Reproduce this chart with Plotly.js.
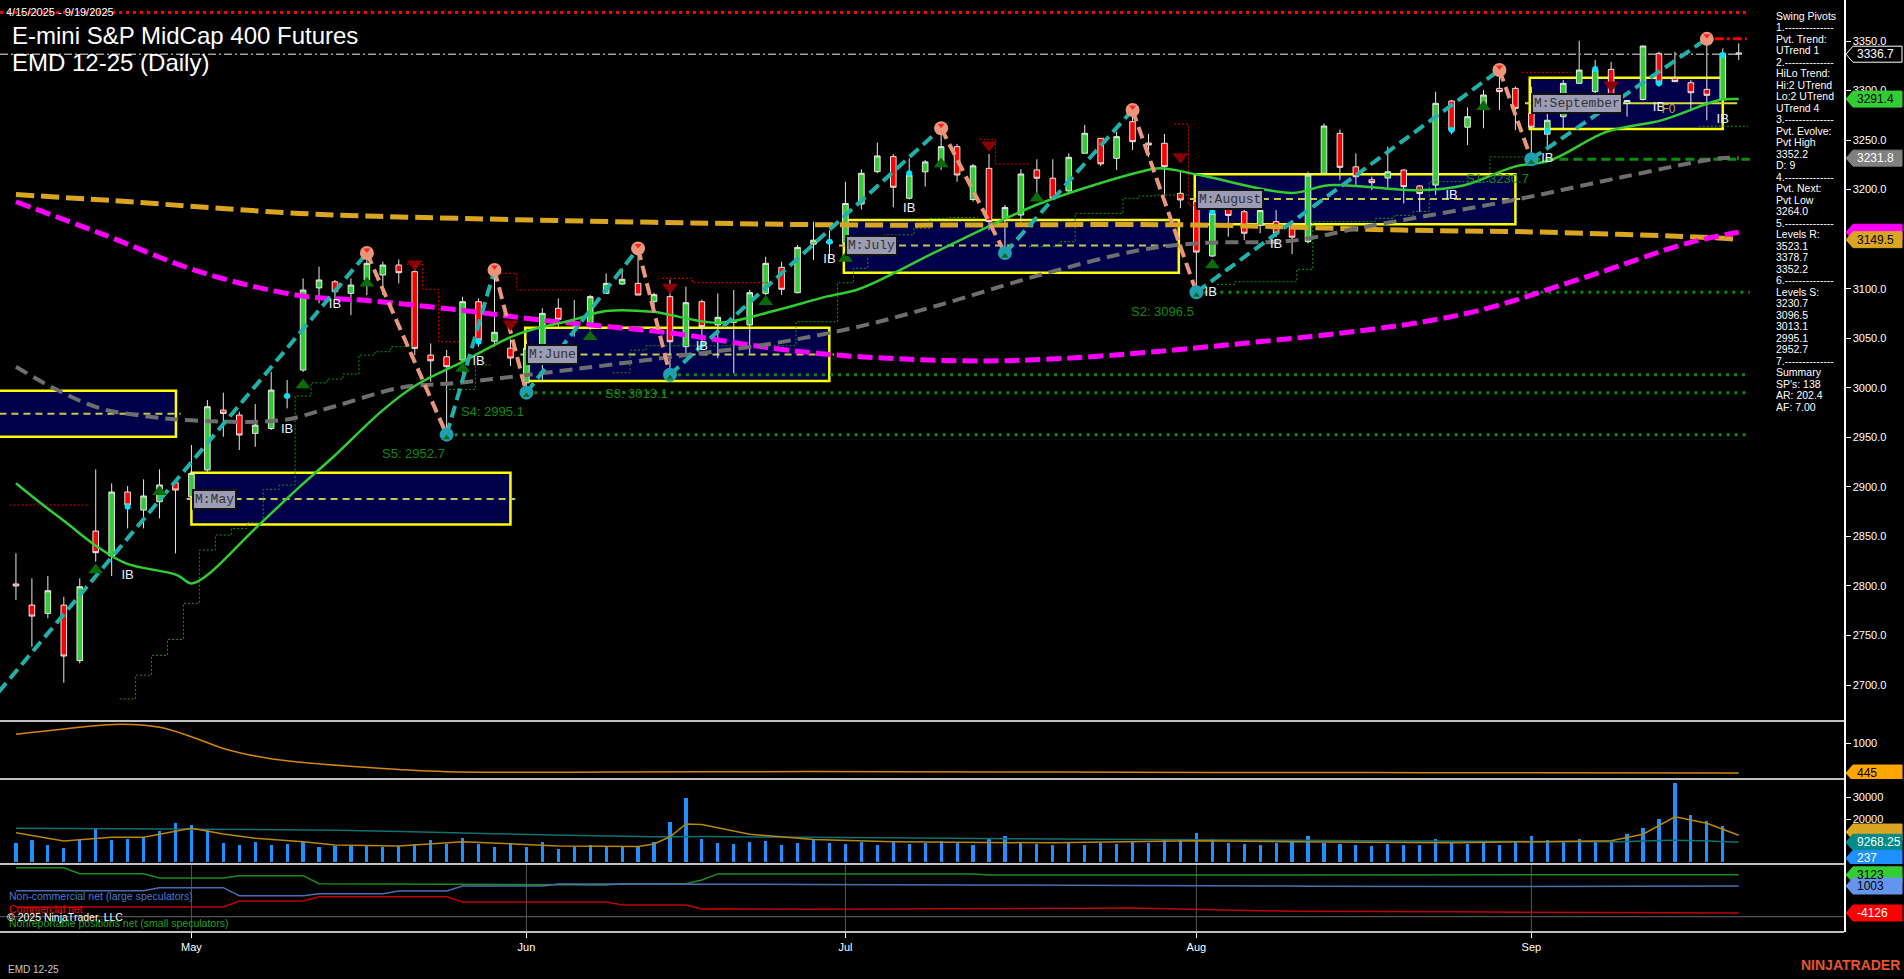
<!DOCTYPE html>
<html><head><meta charset="utf-8">
<script src="https://cdn.plot.ly/plotly-3.0.1.min.js"></script>
<style>html,body{margin:0;padding:0;background:#000;}#chart{width:1904px;height:979px;}</style>
</head><body><div id="chart"></div>
<script>
// ---------- DATA (bar index 0 = 4/15/2025 ... 108 = 9/19/2025) ----------
const barOpen  = [2802,2780.7,2772.3,2780.7,2724.6,2855.4,2830.2,2894.8,2876.6,2885,2904.2,2890,2917,2977.5,2972.5,2954,2959,2992,3017.9,3100.8,3107,3095.3,3108.8,3113.8,3123.9,3117.2,3033,3031.4,3028,3086.9,3047,3040,3005,3041.5,3080.2,3064,3061.7,3095.3,3104.7,3105.4,3087,3092,3041.5,3086.9,3063.4,3066,3063.4,3095.3,3121.6,3096,3145,3148,3146,3185.5,3218.2,3233.3,3191.3,3218,3228,3243.4,3190,3221.5,3171,3174.4,3219.9,3211.5,3198.7,3236.7,3251.8,3231.6,3268.6,3247,3246.8,3196.3,3188,3133,3181,3177.7,3164,3167.7,3164,3147.5,3216.5,3256.8,3223,3210,3211.7,3219.8,3203.7,3204.6,3289.4,3263,3282,3302.2,3302.2,3277,3256,3273.6,3307.3,3299,3321.4,3287,3291,3337.5,3312.3,3307.9,3301.2,3290.5,3338];
const barHigh  = [2832.9,2807.7,2810,2789.1,2807.7,2917.7,2903.5,2900.8,2907.6,2917.7,2904.2,2942.2,2987.6,2995.1,2975.9,2983.6,3016.2,3007.8,3110.4,3122.2,3108.8,3110.4,3136,3127.3,3129.6,3125.6,3044.8,3038.1,3091.9,3090.3,3119,3049,3048,3080.2,3090.3,3088.6,3093.6,3115.5,3120.6,3140.7,3096,3109.2,3102.1,3089,3095.3,3098.7,3098.7,3132.3,3127.3,3144.1,3167.6,3159,3208,3220.5,3247.4,3236,3231.6,3230,3262,3246,3226,3236,3184.5,3220.5,3230.6,3230.6,3236.7,3265.3,3251.8,3258.5,3280.4,3256.2,3256.2,3219.9,3195,3177.7,3187.8,3179.4,3187.8,3179.4,3169,3218.2,3266.9,3260.8,3236.6,3213,3243.4,3220.5,3204.6,3298.9,3290.5,3283,3300.6,3320.7,3304,3304,3290,3310.6,3350.3,3330.8,3329,3290.5,3345,3339.2,3339.2,3310.6,3352.2,3342.6,3347.6];
const barLow   = [2785.8,2738.7,2767.3,2702.3,2721.9,2824.5,2810,2858.1,2858.1,2868.2,2832.9,2888.4,2915.3,2950.6,2937.2,2940.5,2957.4,2979.2,3016,3085.2,3088.6,3073.4,3093.6,3093.6,3105.4,3033,3006.1,2952.7,3014.6,3041.5,3041.5,3022,2995.1,3006.2,3061.7,3051.6,3058.3,3095.3,3103.7,3093.6,3082,3013.1,3033,3042,3030,3014.6,3034.7,3093.6,3093.6,3095.3,3129,3130,3145,3180,3216.5,3182.2,3190,3203,3220,3208,3188,3159,3136,3167.7,3190,3189.6,3198,3236.7,3223.9,3219.9,3240,3233,3195,3181.2,3096.5,3132,3152.5,3149,3156,3152,3135,3145.8,3216.5,3209.7,3203,3199.6,3199.6,3186,3177.7,3194.6,3256,3245,3261.9,3280.4,3260,3230.7,3240,3260,3307.3,3290,3290.5,3273.6,3290,3303.9,3309,3280,3270,3290.5,3330.8];
const barClose = [2800,2769.6,2795.2,2729.3,2799.2,2833.6,2894.8,2881.7,2890.8,2901.9,2896.8,2913.6,2980.9,2974.2,2952.3,2962.4,2997.7,2991,3098.7,3108.8,3097,3103.7,3125.6,3123.9,3116.2,3039.8,3027.3,3021.3,3086.9,3048.2,3056,3030,3040,3075.1,3069.1,3065,3092,3105.4,3109.5,3093.6,3094,3046.5,3085.9,3061.7,3071.1,3068,3096,3125.6,3099.4,3141.7,3149,3146,3186,3216.5,3234,3202.4,3214.8,3228,3243.4,3214.8,3224,3167.7,3182,3215.8,3211.5,3191.3,3232.6,3256.9,3226,3253.5,3248.4,3245,3223.2,3189.6,3137,3176,3174,3156,3179,3156,3152,3214.8,3264.2,3222.5,3213,3207,3218,3203,3196,3287.1,3260.2,3273.6,3295.5,3298.9,3282,3263,3270,3307.3,3320.7,3321,3293,3290,3345,3306.6,3309,3297.8,3295.2,3337.5,3336.7];
const volume   = [8800,10300,8000,6500,10600,15200,10300,10600,11600,14500,18300,17200,15200,8800,8000,9400,8000,8500,9400,7200,7700,7700,8000,7200,7500,8500,10300,8500,11400,8500,7200,8800,7200,9400,6200,7200,7800,7200,7000,7000,9400,18600,29500,11000,9000,8500,9500,10000,8000,9000,10500,9000,8500,9500,8000,10000,8500,9000,10000,9500,8000,11000,12000,9000,8500,8000,9500,8000,9000,8500,10000,9000,11000,10500,13500,11000,9000,8500,8000,9000,9500,12000,9000,8500,8000,7500,8500,8000,8000,11000,9500,8500,9000,8000,9500,12000,10500,10000,11000,9500,10000,13000,16000,20000,36500,22000,19000,17000,237];

const monthTickIdx = [11,32,52,74,95];
const monthLabels  = ['May','Jun','Jul','Aug','Sep'];

// moving averages at sample bars
const greenMaIdx = [0,1.3,3.2,5.1,6.9,10.1,11,12,14.9,17.8,19.9,23,25.1,27.8,31.6,34.9,37,39.9,44,47.5,50.8,52.9,57.9,64.2,70.5,71.7,74.2,80,82.3,87.8,90.8,93.9,96.2,99.7,103.2,106.8,108];
const greenMaVal = [2903.6,2886.7,2863.2,2839.6,2822.8,2811,2802.6,2811,2856.4,2900.2,2930.4,2977.5,3002.8,3024.6,3055,3068.4,3077.5,3076.8,3065.6,3077.5,3092,3100,3139,3186,3218,3221.5,3214.8,3196.7,3204.5,3199.4,3204.5,3223,3229.7,3258.3,3270.2,3290.5,3291.4];
const grayMaIdx  = [0,2.6,5.3,8.4,11.5,16.7,19.9,24.1,27.8,32.9,41.2,47.5,52.9,57.9,64.2,70.5,74.2,80,84.6,93.9,100.8,106.8,108];
const grayMaVal  = [3021.3,2997.7,2979.2,2970.8,2966.8,2967.4,2980.9,3000.1,3005.1,3014.6,3031.4,3044.9,3062,3083.6,3113.9,3139.1,3146,3148.5,3162.6,3189.5,3213,3231.6,3231.8];
const orangeMaIdx = [0,6,17.8,27.8,40,52.9,74,86.9,96.2,107,108];
const orangeMaVal = [3195,3189,3176,3171,3167,3164.3,3164.3,3159.2,3156.9,3150.9,3149.5];
const magentaMaIdx = [0,5.3,11.5,17.8,22,27.8,32.9,41.2,47.5,52.9,62.2,75.1,90.3,98,104.8,108];
const magentaMaVal = [3187.8,3155.9,3117.2,3093,3088,3078.5,3068.4,3055,3039.8,3031.4,3027.4,3042,3072.8,3109.5,3146,3157];

// swing pivots (zig-zag)
const pivotIdx   = [-4,22,27,30,32,39,41,58,62,70,74,93,95,106];
const pivotPrice = [2637,3136,2952.7,3119,2995.1,3140.7,3013.1,3262,3136,3280.4,3096.5,3320.7,3230.7,3352.2];

// support levels
const supportName  = ['S5','S4','S3','S2','S1'];
const supportPrice = [2952.7,2995.1,3013.1,3096.5,3230.7];
const supportStart = [27,32,41,74,95];
const resistLevel  = 3378.7;
const lastPrice    = 3336.7;

// monthly value-area boxes
const boxLabel  = ['', 'M:May','M:June','M:July','M:August','M:September'];
const boxStart  = [-6, 11, 31.93, 51.9, 73.9, 94.9];
const boxEnd    = [10.03, 31.0, 50.99, 72.9, 94.0, 107.0];
const boxTop    = [2997.1, 2914.3, 3060.7, 3169.4, 3215.6, 3312.9];
const boxBottom = [2950.6, 2862, 3006.8, 3116.2, 3165, 3261.2];
const boxMid    = [2973.9, 2887.7, 3033.7, 3143.5, 3190.5, 3287.1];

// markers
const ibIdx   = [7,17,20,29,43,51,56,74.9,79,90,96,103,107];
const ibPrice = [2810,2957.4,3083.5,3026.4,3041.5,3129,3181.2,3096.4,3144.8,3193.9,3231.6,3283,3270.3];
const upTriIdx   = [5,9,18,22,28,36,47,52,58,64,75,92];
const upTriPrice = [2816,2895,3002.8,3105.4,3019.6,3051.6,3086.9,3130.6,3225.9,3191.3,3123.9,3283.7];
const dnTriIdx   = [25,31,41,61,73,100];
const dnTriPrice = [3124.9,3064.4,3101.4,3245,3233.3,3305.6];
const dotIdx   = [7,17,29,51,56,75,90,96,99,103,107];
const dotPrice = [2880,2991.7,3046.5,3147.5,3216.5,3177.8,3260.2,3259.2,3321.7,3307.3,3335.9];

// trailing stop steps (null separates runs)
const stopUpIdx = [6.5,7.5,8.5,9.5,10.5,11.5,12.5,13.5,14.5,15.5,16.5,17.5,18.5,19.5,20.5,21.5,22.5,23.5,24.9,null,
  26.9,28.8,29.8,null,
  37.4,38.5,39.5,48.9,51.5,52.5,53.4,54.4,56.3,57.3,58.4,60.3,null,
  63.5,65.4,66.4,69.4,70.4,71.4,73.4,null,
  75.3,76.4,80.3,81.3,85.2,86.4,87.6,88.6,92.4,94.5,null,
  105.5,108.6];
const stopUpVal = [2686,2710,2730,2746,2782.4,2836.3,2851.4,2858,2863.8,2897.5,2901.8,2991.7,3005,3008.8,3013.9,3033,3036.4,3041.5,3041.5,null,
  2998.4,3023,3023,null,
  3015.2,3038,3042.5,3066.7,3106,3120.6,3150.9,3154.3,3161,3171,3172,3172,null,
  3142.5,3147.5,3176,3191.3,3193.6,3194.6,3194.6,null,
  3104.4,3107,3119.6,3167.6,3171,3174,3178,3208,3233,3233,null,
  3264,3264];
const stopDnIdx = [-0.4,4.6,null,24.5,25.5,26.5,27.8,null,29.9,31.4,35.6,null,40.5,42.4,47.5,null,60.4,61.4,63.5,null,72.6,73.5,74.5,null,94.4,97.5];
const stopDnVal = [2881.7,2881.7,null,3124.9,3099.3,3046.5,3046.5,null,3115.5,3098.7,3098.7,null,3110.5,3106.1,3106.1,null,3250.8,3225.9,3225.9,null,3266.3,3184.5,3184.5,null,3318.4,3318.4];

// lower panels
const atrIdx = [0,3,6.6,9,11,13,15.8,18,21.4,24,27,35,43,55,65,75,85,95,108];
const atrVal = [1161,1260,1346,1290,1117,900,717,640,562,510,469,460,469,470,462,455,452,450,445];
const volAvgIdx = [0,3,6,8,11,13,15,18,20,24,28,31,34,39,40,41,42,43,46,50,55,65,74,80,90,100,102,104,106,108];
const volAvgVal = [13700,9900,11600,11600,15700,13100,11100,9500,8000,7600,9500,8500,7600,7300,8500,11800,17700,17500,13000,10500,9500,9000,10000,9500,9000,10000,13000,21000,18000,12500];
const volSlowIdx = [0,10,20,30,40,43,60,80,100,104,108];
const volSlowVal = [15700,15400,14800,13200,11800,11900,11000,10200,9500,10200,9268.25];
const cotIdx = [0,3,4,8,9,13,14,18,19,23,24,27,28,33,34,37,38,42,43,44,50,60,61,70,80,81,90,95,100,101,108];
const cotSmall = [4480,4480,3340,3340,2520,2520,2960,2960,1440,1400,1350,1300,1300,1250,1200,1190,1440,1440,2140,3300,3300,3300,3100,3100,3100,3000,3000,3000,3000,3123,3123];
const cotLarge = [110,110,110,110,680,680,-840,-840,-460,-460,53,53,1003,1003,1383,1383,1440,1440,1440,1400,1300,1200,1200,1100,1000,950,900,950,1000,1003,1003];
const cotComm  = [-2987,-2987,-2987,-2987,-2987,-2987,-1847,-1847,-1030,-1030,-1030,-1030,-2037,-2037,-2037,-2037,-2607,-2607,-3367,-3300,-3400,-3300,-3200,-3200,-3800,-3800,-3900,-4000,-4100,-4126,-4126];

const pivotText = ['Swing Pivots','1.--------------','Pvt. Trend:','UTrend 1','2.--------------','HiLo Trend:','Hi:2 UTrend','Lo:2 UTrend','UTrend 4','3.--------------','Pvt. Evolve:','Pvt High','3352.2','D: 9','4.--------------','Pvt. Next:','Pvt Low','3264.0','5.--------------','Levels R:','3523.1','3378.7','3352.2','6.--------------','Levels S:','3230.7','3096.5','3013.1','2995.1','2952.7','7.--------------','Summary',"SP's: 138",'AR: 202.4','AF: 7.00'];

// ---------- LAYOUT HELPERS ----------
const W = 1904, H = 979, PR = 1844;
const py = p => (H - p) / H;         // pixel row -> paper y
const px = p => p / W;               // pixel col -> paper x
const barIdx = barOpen.map((_, i) => i);
const XEND = 108.7;
const font = 'Arial, "Liberation Sans", sans-serif';

const traces = [];
const shapes = [];
const annotations = [];

// monthly boxes
boxStart.forEach((s, k) => {
  shapes.push({type:'rect', xref:'x', yref:'y', x0:s, x1:boxEnd[k], y0:boxBottom[k], y1:boxTop[k],
    fillcolor:'#00004a', line:{color:'#ffff00', width:2.5}, layer:'below'});
  const solid = k === 5;
  shapes.push({type:'line', xref:'x', yref:'y', x0:s - 0.3, x1: solid ? 107.9 : boxEnd[k] + 0.3, y0:boxMid[k], y1:boxMid[k],
    line:{color: solid ? '#d8d83a' : '#c8c850', width:2, dash: solid ? 'solid' : '7px,5px'}, layer:'below'});
  if (boxLabel[k]) annotations.push({xref:'x', yref:'y', x:s + 0.05, y:boxMid[k], xanchor:'left', yanchor:'middle',
    text:boxLabel[k], showarrow:false, bgcolor:'#9c9cb4', bordercolor:'#111', borderwidth:2, borderpad:1,
    font:{family:'"Liberation Mono", "DejaVu Sans Mono", monospace', size:13, color:'#333'}});
});

// support dotted lines
supportPrice.forEach((p, k) => {
  traces.push({x:[supportStart[k], XEND], y:[p, p], mode:'lines', hoverinfo:'skip',
    line:{color: k === 4 ? '#0b8f0b' : '#0a8a0a', width:3, dash: k === 4 ? '9px,5px' : '3px,5px'}});
  annotations.push({xref:'x', yref:'y', x:supportStart[k], y:p - 19, xanchor:'right', yanchor:'middle',
    text: supportName[k] + ': ' + p.toFixed(1), showarrow:false, font:{family:font, size:13, color:'#128a12'}});
});
// resistance dotted & last price dash-dot
traces.push({x:[-1, XEND], y:[resistLevel, resistLevel], mode:'lines', hoverinfo:'skip', line:{color:'#ff0000', width:3, dash:'3px,4px'}});
traces.push({x:[-1, 108.3], y:[lastPrice, lastPrice], mode:'lines', hoverinfo:'skip', line:{color:'#a0a0a0', width:1.5, dash:'8px,3px,2px,3px'}});
traces.push({x:[106.5, 108.5], y:[3352.2, 3352.2], mode:'lines', hoverinfo:'skip', line:{color:'#ff0000', width:3, dash:'9px,3px,3px,3px'}});

// trailing stops
traces.push({x:stopUpIdx, y:stopUpVal, mode:'lines', line:{shape:'hv', color:'#0d9a0d', width:1, dash:'2px,2px'}, connectgaps:false, hoverinfo:'skip'});
traces.push({x:stopDnIdx, y:stopDnVal, mode:'lines', line:{shape:'hv', color:'#e00000', width:1, dash:'2px,2px'}, connectgaps:false, hoverinfo:'skip'});

// moving averages
traces.push({x:orangeMaIdx, y:orangeMaVal, mode:'lines', line:{shape:'spline', color:'#daa520', width:5, dash:'18px,7px'}, hoverinfo:'skip'});
traces.push({x:magentaMaIdx, y:magentaMaVal, mode:'lines', line:{shape:'spline', color:'#ff00ff', width:5, dash:'15px,6px'}, hoverinfo:'skip'});
traces.push({x:grayMaIdx, y:grayMaVal, mode:'lines', line:{shape:'spline', color:'#6e6e6e', width:4, dash:'13px,7px'}, hoverinfo:'skip'});
traces.push({x:greenMaIdx, y:greenMaVal, mode:'lines', line:{shape:'spline', color:'#32cd32', width:2.5}, hoverinfo:'skip'});

// candles
traces.push({type:'candlestick', x:barIdx, open:barOpen, high:barHigh, low:barLow, close:barClose,
  increasing:{fillcolor:'#32cd32', line:{color:'#e8e8e8', width:1}},
  decreasing:{fillcolor:'#ff0000', line:{color:'#e8e8e8', width:1}},
  whiskerwidth:0, hoverinfo:'skip'});

// zig-zag
for (let k = 0; k < pivotIdx.length - 1; k++) {
  const up = pivotPrice[k + 1] > pivotPrice[k];
  traces.push({x:[pivotIdx[k], pivotIdx[k + 1]], y:[pivotPrice[k], pivotPrice[k + 1]], mode:'lines', hoverinfo:'skip',
    line:{color: up ? '#20b2aa' : '#e9967a', width:4, dash:'12px,6px'}});
}
const hiI = [], hiP = [], loI = [], loP = [];
pivotIdx.forEach((i, k) => { if (i < 0) return; if (k % 2 === 1) { hiI.push(i); hiP.push(pivotPrice[k]); } else { loI.push(i); loP.push(pivotPrice[k]); } });
traces.push({x:hiI, y:hiP, mode:'markers', marker:{symbol:'circle', size:14, color:'#e9967a'}, hoverinfo:'skip'});
traces.push({x:hiI, y:hiP.map(v => v + 3), mode:'markers', marker:{symbol:'triangle-down', size:6, color:'#ff2020'}, hoverinfo:'skip'});
traces.push({x:loI, y:loP, mode:'markers', marker:{symbol:'circle', size:14, color:'#1f9fb0'}, hoverinfo:'skip'});
traces.push({x:loI, y:loP.map(v => v - 3), mode:'markers', marker:{symbol:'triangle-up', size:6, color:'#0a6b0a'}, hoverinfo:'skip'});

// other markers
traces.push({x:upTriIdx, y:upTriPrice, mode:'markers', marker:{symbol:'triangle-up', size:13, color:'#0a6b0a'}, hoverinfo:'skip'});
traces.push({x:dnTriIdx, y:dnTriPrice, mode:'markers', marker:{symbol:'triangle-down', size:14, color:'#8b0000'}, hoverinfo:'skip'});
traces.push({x:dotIdx, y:dotPrice, mode:'markers', marker:{symbol:'circle', size:6, color:'#00e5ff'}, hoverinfo:'skip'});
traces.push({x:ibIdx, y:ibPrice, mode:'text', text:ibIdx.map(() => 'IB'), textfont:{family:font, size:13, color:'#f0f0ff'}, hoverinfo:'skip'});
traces.push({x:[103.6], y:[3280.4], mode:'text', text:['F0'], textfont:{family:font, size:12, color:'#c0a040'}, hoverinfo:'skip'});

// panel 2
traces.push({x:atrIdx, y:atrVal, yaxis:'y2', mode:'lines', line:{shape:'spline', color:'#d4860f', width:1.5}, hoverinfo:'skip'});
// panel 3
traces.push({type:'bar', x:barIdx, y:volume, yaxis:'y3', width:0.2, marker:{color:'#1e90ff', line:{width:0}}, hoverinfo:'skip'});
traces.push({x:volSlowIdx, y:volSlowVal, yaxis:'y3', mode:'lines', line:{shape:'spline', color:'#0f7070', width:1.5}, hoverinfo:'skip'});
traces.push({x:volAvgIdx, y:volAvgVal, yaxis:'y3', mode:'lines', line:{color:'#b8860b', width:1.5}, hoverinfo:'skip'});
// panel 4
traces.push({x:cotIdx, y:cotSmall, yaxis:'y4', mode:'lines', line:{color:'#1e8c1e', width:1.5}, hoverinfo:'skip'});
traces.push({x:cotIdx, y:cotLarge, yaxis:'y4', mode:'lines', line:{color:'#4a6fb0', width:1.5}, hoverinfo:'skip'});
traces.push({x:cotIdx, y:cotComm, yaxis:'y4', mode:'lines', line:{color:'#c00000', width:1.5}, hoverinfo:'skip'});

// panel separators
[721, 779, 864, 932].forEach(r => shapes.push({type:'line', xref:'paper', yref:'paper', x0:0, x1:px(PR), y0:py(r), y1:py(r), line:{color:'#ffffff', width:1.5}, layer:'above'}));
shapes.push({type:'line', xref:'paper', yref:'paper', x0:0, x1:px(PR), y0:py(916.7), y1:py(916.7), line:{color:'#666', width:1}, layer:'below'});
monthTickIdx.forEach(i => shapes.push({type:'line', xref:'x', yref:'paper', x0:i, x1:i, y0:py(931), y1:py(865), line:{color:'#555', width:1}, layer:'below'}));

// right axis value tags
function tag(yref, v, upp, fill, txtColor, txt, border) {
  const x0 = px(1846), xa = px(1853), x1 = px(1902), h = 8 * upp;
  shapes.push({type:'path', xref:'paper', yref:yref, path:`M ${x0},${v} L ${xa},${v + h} L ${x1},${v + h} L ${x1},${v - h} L ${xa},${v - h} Z`,
    fillcolor:fill, line:{color:border || fill, width:1}, layer:'above'});
  if (txt) annotations.push({xref:'paper', yref:yref, x:px(1855), y:v, xanchor:'left', yanchor:'middle', text:txt, showarrow:false,
    font:{family:font, size:12, color:txtColor}});
}
const uMain = 1 / 0.9908, uP2 = 1073 / 58, uP3 = 39170 / 85, uP4 = 12920 / 68;
tag('y', lastPrice, uMain, '#000000', '#ffffff', lastPrice.toFixed(1), '#ffffff');
tag('y', 3291.4, uMain, '#32cd32', '#000000', '3291.4');
tag('y', 3231.8, uMain, '#808080', '#ffffff', '3231.8');
tag('y', 3157, uMain, '#ff00ff', '#000', '');
tag('y', 3149.5, uMain, '#daa520', '#000000', '3149.5');
tag('y2', 445, uP2, '#ffa500', '#000000', '445');
tag('y3', 14000, uP3, '#daa520', '#000', '');
tag('y3', 9268.25, uP3, '#008b8b', '#ffffff', '9268.25');
tag('y3', 1890, uP3, '#1e90ff', '#ffffff', '237');
tag('y4', 3123, uP4, '#32cd32', '#000000', '3123');
tag('y4', 1003, uP4, '#6495ed', '#000000', '1003');
tag('y4', -4126, uP4, '#ff0000', '#ffffff', '-4126');

// texts
const txt = (x, y, t, size, color, extra) => annotations.push(Object.assign({xref:'paper', yref:'paper', x:px(x), y:py(y), xanchor:'left', yanchor:'middle', text:t, showarrow:false, font:{family:font, size:size, color:color}}, extra || {}));
txt(4, 12, '4/15/2025 - 9/19/2025', 11, '#ffffff');
txt(10, 36, 'E-mini S&amp;P MidCap 400 Futures', 24, '#ffffff');
txt(10, 63, 'EMD 12-25 (Daily)', 24, '#ffffff');
pivotText.forEach((t, k) => txt(1774, 15.7 + k * 11.5, t, 10.5, '#ffffff'));
txt(7, 896, 'Non-commercial net (large speculators)', 10.5, '#4a78d0');
txt(7, 909, 'Commercial net', 10.5, '#ff0000');
txt(7, 923, 'Nonreportable positions net (small speculators)', 10.5, '#22a022');
txt(5, 917, '© 2025 NinjaTrader, LLC', 10.5, '#ffffff');
txt(6, 969, 'EMD 12-25', 10, '#c8c8c8');
txt(1902, 965, '<b>NINJATRADER</b>', 14, '#e8532a', {xanchor:'right'});

const axisCommon = {side:'right', anchor:'x', showgrid:false, zeroline:false, showline:true, linecolor:'#ffffff', linewidth:1.5,
  ticks:'outside', ticklen:5, tickcolor:'#ffffff', tickfont:{family:font, size:11, color:'#ffffff'}, fixedrange:true};
const layout = {
  width:W, height:H, margin:{l:0, r:0, t:0, b:0}, paper_bgcolor:'#000000', plot_bgcolor:'#000000', showlegend:false,
  boxgap:0.5, bargap:0, hovermode:false,
  xaxis:{domain:[0, px(PR)], range:[-1.0, 114.6], anchor:'y4', tickvals:monthTickIdx, ticktext:monthLabels, ticks:'outside', ticklen:5,
    tickcolor:'#ffffff', tickfont:{family:font, size:11, color:'#ffffff'}, showgrid:false, zeroline:false, showline:false,
    rangeslider:{visible:false}, fixedrange:true},
  yaxis:Object.assign({}, axisCommon, {domain:[py(721), 1], range:[2663.7, 3391.4], tickvals:[2700,2750,2800,2850,2900,2950,3000,3050,3100,3200,3250,3300,3350], tickformat:'.1f'}),
  yaxis2:Object.assign({}, axisCommon, {domain:[py(779), py(721)], range:[334, 1407], tickvals:[1000]}),
  yaxis3:Object.assign({}, axisCommon, {domain:[py(864), py(779)], range:[-737, 38433], tickvals:[20000, 30000], tickformat:'d'}),
  yaxis4:Object.assign({}, axisCommon, {domain:[py(932), py(864)], range:[-7737, 5183], tickvals:[], showticklabels:false}),
  shapes:shapes, annotations:annotations
};
Plotly.newPlot('chart', traces, layout, {staticPlot:true, displayModeBar:false});
</script>
</body></html>
